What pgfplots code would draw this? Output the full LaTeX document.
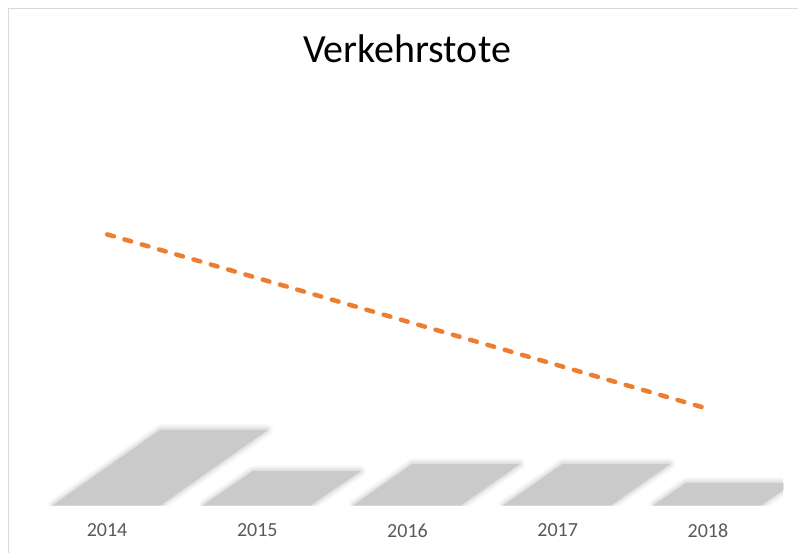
\documentclass[border=0pt]{standalone}
\usepackage{fontspec}
\setmainfont{Carlito}
\usepackage{pgfplots}
\usepackage{pgfplotstable}
\pgfplotsset{compat=1.18}
\definecolor{trend}{HTML}{ED7D31}
\definecolor{shadowgray}{RGB}{202,202,202}
\definecolor{ticktext}{HTML}{595959}
\definecolor{framegray}{HTML}{D9D9D9}

\pgfplotstableread{
x v
0 323
1 149
2 177
3 177
4 91
}\datatable

\begin{document}
\begin{tikzpicture}
\path[use as bounding box] (0pt,0pt) rectangle (798pt,552pt);
\draw[framegray, line width=1.5pt] (8.5pt,-20pt) rectangle (820pt,543.5pt);
\node[anchor=base, font=\fontsize{40}{48}\selectfont] at (407pt,489pt) {Verkehrstote};
\begin{axis}[
 at={(32pt,47pt)}, anchor=south west,
 scale only axis, width=751pt, height=415pt,
 xmin=-0.5, xmax=4.5, ymin=0, ymax=415,
 axis line style={draw=none}, ytick=\empty, xtick={0,1,2,3,4},
 xticklabels={2014,2015,2016,2017,2018},
 major tick length=0pt,
 xticklabel style={font=\fontsize{20}{24}\selectfont, text=ticktext, yshift=-15pt},
 clip=true,
 shadow/.style={fill=shadowgray, draw=none, mark=none,
   preaction={draw=shadowgray, draw opacity=0.12, line width=12pt, line join=round},
   preaction={draw=shadowgray, draw opacity=0.22, line width=8pt, line join=round},
   preaction={draw=shadowgray, draw opacity=0.4, line width=4pt, line join=round}},
]
\addplot[shadow] coordinates {(-0.355,0) (0.355,0) (1.065,75) (0.355,75)} -- cycle;
\addplot[shadow] coordinates {(0.645,0) (1.355,0) (1.685,34) (0.975,34)} -- cycle;
\addplot[shadow] coordinates {(1.645,0) (2.355,0) (2.745,41) (2.035,41)} -- cycle;
\addplot[shadow] coordinates {(2.645,0) (3.355,0) (3.745,41) (3.035,41)} -- cycle;
\addplot[shadow] coordinates {(3.645,0) (4.355,0) (4.565,22) (3.855,22)} -- cycle;
\addplot[trend, line width=4.5pt, dash pattern=on 7pt off 11pt, line cap=round, mark=none]
  table[x=x, y={create col/linear regression={y=v}}] {\datatable};
\end{axis}
\end{tikzpicture}
\end{document}
